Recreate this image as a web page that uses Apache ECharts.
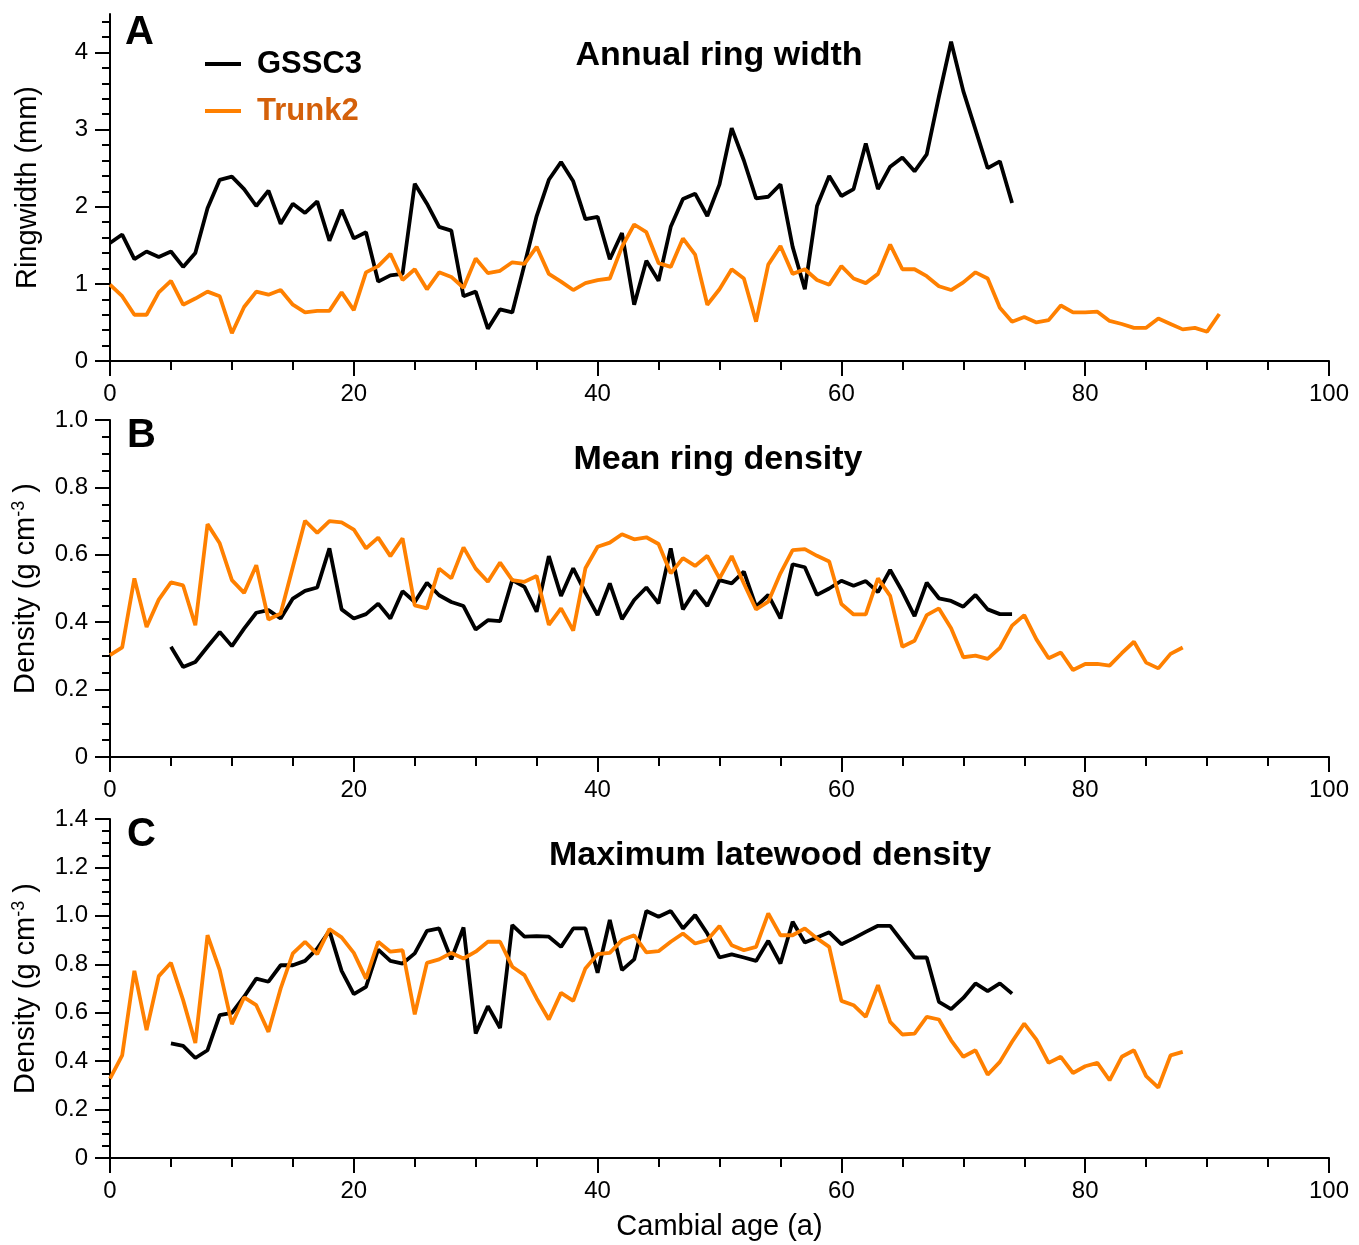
<!DOCTYPE html>
<html>
<head>
<meta charset="utf-8">
<title>Ring width and density by cambial age</title>
<script src="https://cdn.jsdelivr.net/npm/echarts@6/dist/echarts.min.js"></script>
<style>
html, body { margin: 0; padding: 0; background: #fff; }
#chart { width: 1359px; height: 1245px; }
</style>
</head>
<body>
<div id="chart"></div>
<script>
// tick labels
var ageTicks = [0, 20, 40, 60, 80, 100]
var ringTicks = [0, 1, 2, 3, 4]
var densityTicksB = [0, 0.2, 0.4, 0.6, 0.8, 1.0]
var densityTicksC = [0, 0.2, 0.4, 0.6, 0.8, 1.0, 1.2, 1.4]

// first cambial age of each record
var ringStartGSSC3 = 0
var ringStartTrunk2 = 0
var densityStartGSSC3 = 5
var densityStartTrunk2 = 0

// A: annual ring width (mm)
var ringWidthGSSC3 = [
  1.53, 1.64, 1.32, 1.42, 1.35, 1.42, 1.22, 1.40, 1.98, 2.35,
  2.39, 2.23, 2.01, 2.21, 1.78, 2.04, 1.92, 2.07, 1.56, 1.96,
  1.59, 1.67, 1.03, 1.11, 1.13, 2.30, 2.04, 1.74, 1.69, 0.84,
  0.90, 0.42, 0.67, 0.63, 1.25, 1.88, 2.35, 2.58, 2.33, 1.84,
  1.87, 1.32, 1.66, 0.73, 1.30, 1.04, 1.74, 2.10, 2.17, 1.88,
  2.29, 3.02, 2.60, 2.11, 2.13, 2.29, 1.48, 0.93, 2.01, 2.40,
  2.14, 2.23, 2.82, 2.23, 2.52, 2.64, 2.46, 2.68, 3.43, 4.14,
  3.50, 3.00, 2.50, 2.59, 2.05
]
var ringWidthTrunk2 = [
  0.99, 0.84, 0.60, 0.60, 0.89, 1.04, 0.73, 0.81, 0.90, 0.84,
  0.36, 0.70, 0.90, 0.86, 0.92, 0.73, 0.63, 0.65, 0.65, 0.89,
  0.66, 1.15, 1.23, 1.39, 1.05, 1.19, 0.93, 1.15, 1.09, 0.95,
  1.33, 1.14, 1.17, 1.28, 1.26, 1.48, 1.13, 1.03, 0.92, 1.01,
  1.05, 1.07, 1.48, 1.77, 1.67, 1.27, 1.22, 1.59, 1.38, 0.73,
  0.93, 1.19, 1.07, 0.51, 1.25, 1.49, 1.13, 1.19, 1.05, 0.99,
  1.23, 1.07, 1.01, 1.13, 1.51, 1.19, 1.19, 1.10, 0.97, 0.92,
  1.02, 1.15, 1.07, 0.69, 0.51, 0.57, 0.50, 0.53, 0.72, 0.63,
  0.63, 0.64, 0.52, 0.48, 0.43, 0.43, 0.55, 0.48, 0.41, 0.43,
  0.38, 0.61
]

// B: mean ring density (g cm-3)
var meanDensityGSSC3 = [
  0.327, 0.267, 0.282, 0.327, 0.371, 0.329, 0.381, 0.428, 0.436, 0.411,
  0.470, 0.493, 0.503, 0.619, 0.438, 0.411, 0.424, 0.455, 0.411, 0.492,
  0.460, 0.517, 0.480, 0.460, 0.448, 0.378, 0.406, 0.403, 0.525, 0.505,
  0.431, 0.596, 0.478, 0.560, 0.488, 0.421, 0.515, 0.409, 0.466, 0.503,
  0.456, 0.619, 0.438, 0.494, 0.448, 0.525, 0.515, 0.550, 0.446, 0.481,
  0.411, 0.572, 0.563, 0.481, 0.500, 0.523, 0.508, 0.522, 0.489, 0.555,
  0.491, 0.418, 0.517, 0.471, 0.463, 0.446, 0.481, 0.438, 0.424, 0.424
]
var meanDensityTrunk2 = [
  0.302, 0.325, 0.530, 0.386, 0.467, 0.518, 0.509, 0.391, 0.691, 0.634,
  0.525, 0.487, 0.569, 0.408, 0.426, 0.564, 0.701, 0.665, 0.700, 0.696,
  0.675, 0.619, 0.651, 0.596, 0.649, 0.450, 0.441, 0.559, 0.530, 0.622,
  0.559, 0.520, 0.577, 0.525, 0.520, 0.537, 0.392, 0.441, 0.375, 0.560,
  0.624, 0.636, 0.661, 0.646, 0.652, 0.632, 0.545, 0.590, 0.567, 0.597,
  0.530, 0.596, 0.515, 0.438, 0.461, 0.545, 0.614, 0.617, 0.597, 0.580,
  0.454, 0.423, 0.423, 0.530, 0.478, 0.327, 0.345, 0.421, 0.441, 0.382,
  0.296, 0.301, 0.291, 0.324, 0.390, 0.421, 0.349, 0.293, 0.310, 0.258,
  0.276, 0.276, 0.271, 0.308, 0.342, 0.280, 0.263, 0.306, 0.325
]

// C: maximum latewood density (g cm-3)
var maxDensityGSSC3 = [
  0.473, 0.463, 0.413, 0.445, 0.590, 0.599, 0.666, 0.741, 0.728, 0.796,
  0.796, 0.814, 0.865, 0.938, 0.773, 0.677, 0.707, 0.861, 0.814, 0.803,
  0.845, 0.938, 0.948, 0.821, 0.952, 0.514, 0.627, 0.537, 0.962, 0.914,
  0.916, 0.914, 0.872, 0.948, 0.948, 0.765, 0.983, 0.776, 0.820, 1.020,
  0.996, 1.020, 0.948, 1.003, 0.927, 0.828, 0.841, 0.828, 0.814, 0.897,
  0.803, 0.976, 0.890, 0.911, 0.932, 0.883, 0.907, 0.934, 0.959, 0.959,
  0.893, 0.828, 0.828, 0.645, 0.615, 0.661, 0.721, 0.689, 0.721, 0.679
]
var maxDensityTrunk2 = [
  0.328, 0.424, 0.773, 0.528, 0.751, 0.806, 0.652, 0.475, 0.920, 0.776,
  0.553, 0.663, 0.631, 0.521, 0.700, 0.845, 0.893, 0.842, 0.945, 0.911,
  0.847, 0.741, 0.893, 0.852, 0.858, 0.593, 0.806, 0.820, 0.847, 0.824,
  0.852, 0.893, 0.893, 0.790, 0.755, 0.659, 0.572, 0.682, 0.649, 0.783,
  0.842, 0.847, 0.900, 0.920, 0.849, 0.854, 0.893, 0.927, 0.886, 0.900,
  0.958, 0.879, 0.858, 0.872, 1.010, 0.920, 0.920, 0.948, 0.907, 0.872,
  0.649, 0.631, 0.583, 0.714, 0.562, 0.510, 0.514, 0.583, 0.572, 0.486,
  0.418, 0.445, 0.344, 0.397, 0.480, 0.555, 0.489, 0.393, 0.418, 0.351,
  0.379, 0.393, 0.321, 0.418, 0.445, 0.338, 0.291, 0.424, 0.438
]

var FONT = '"Liberation Sans", Arial, Helvetica, sans-serif'
var BLACK = '#000000'
var ORANGE = '#FF8000'
var ORANGE_TEXT = '#D4600A'

function withAge(start, values) {
  return values.map(function (v, i) { return [start + i, v] })
}

function densityLabel(v) {
  return v === 0 ? '0' : v.toFixed(1)
}

function xAxis(idx, withName) {
  var axis = {
    type: 'value',
    gridIndex: idx,
    min: 0,
    max: 100,
    interval: 20,
    axisLine: { show: true, onZero: false, lineStyle: { color: BLACK, width: 2 } },
    axisTick: { show: true, length: 15, customValues: ageTicks, lineStyle: { color: BLACK, width: 2 } },
    minorTick: { show: true, splitNumber: 4, length: 9, lineStyle: { color: BLACK, width: 2 } },
    axisLabel: { customValues: ageTicks, fontSize: 24, color: BLACK, margin: 21, fontFamily: FONT },
    splitLine: { show: false },
    minorSplitLine: { show: false }
  }
  if (withName) {
    axis.name = 'Cambial age (a)'
    axis.nameLocation = 'middle'
    axis.nameGap = 54
    axis.nameTextStyle = { fontSize: 29, color: BLACK, fontFamily: FONT }
  }
  return axis
}

function yAxis(idx, max, interval, minorSplit, ticks, formatter, name) {
  return {
    type: 'value',
    gridIndex: idx,
    min: 0,
    max: max,
    interval: interval,
    axisLine: { show: true, onZero: false, lineStyle: { color: BLACK, width: 2 } },
    axisTick: { show: true, length: 15, customValues: ticks, lineStyle: { color: BLACK, width: 2 } },
    minorTick: { show: true, splitNumber: minorSplit, length: 8, lineStyle: { color: BLACK, width: 2 } },
    axisLabel: { customValues: ticks, formatter: formatter, fontSize: 24, color: BLACK, margin: 22, fontFamily: FONT },
    splitLine: { show: false },
    minorSplitLine: { show: false },
    name: name,
    nameLocation: 'middle',
    nameRotate: 90,
    nameGap: 68,
    nameTextStyle: {
      fontSize: 29,
      color: BLACK,
      fontFamily: FONT,
      rich: {
        sup: { fontSize: 18, color: BLACK, fontFamily: FONT, verticalAlign: 'top', padding: [0, 0, 14, 0] }
      }
    }
  }
}

function line(name, idx, data, color) {
  return {
    name: name,
    type: 'line',
    xAxisIndex: idx,
    yAxisIndex: idx,
    data: data,
    showSymbol: false,
    symbol: 'none',
    smooth: false,
    lineStyle: { color: color, width: 3.8 },
    itemStyle: { color: color }
  }
}

function label(text, x, y, size, align) {
  return {
    type: 'text',
    x: x,
    y: y,
    style: {
      text: text,
      fill: BLACK,
      font: 'bold ' + size + 'px ' + FONT,
      align: align,
      verticalAlign: 'middle'
    }
  }
}

var densityName = 'Density (g cm{sup|-3} )'

var chart = echarts.init(document.getElementById('chart'), null, { renderer: 'canvas' })
chart.setOption({
  animation: false,
  backgroundColor: '#ffffff',
  textStyle: { fontFamily: FONT },
  grid: [
    { left: 110, right: 30, top: 14, height: 347, outerBoundsMode: 'none' },
    { left: 110, right: 30, top: 420, height: 337, outerBoundsMode: 'none' },
    { left: 110, right: 30, top: 819, height: 339, outerBoundsMode: 'none' }
  ],
  legend: {
    orient: 'vertical',
    left: 200,
    top: 43,
    icon: 'rect',
    itemWidth: 36,
    itemHeight: 4,
    itemGap: 15,
    textStyle: { fontSize: 31, fontWeight: 'bold', fontFamily: FONT, lineHeight: 32, padding: [0, 0, 0, 11] },
    data: [
      { name: 'GSSC3', textStyle: { color: BLACK } },
      { name: 'Trunk2', textStyle: { color: ORANGE_TEXT } }
    ]
  },
  xAxis: [xAxis(0, false), xAxis(1, false), xAxis(2, true)],
  yAxis: [
    yAxis(0, 4.5, 1, 5, ringTicks, null, 'Ringwidth (mm)'),
    yAxis(1, 1.0, 0.2, 4, densityTicksB, densityLabel, densityName),
    yAxis(2, 1.4, 0.2, 4, densityTicksC, densityLabel, densityName)
  ],
  series: [
    line('GSSC3', 0, withAge(ringStartGSSC3, ringWidthGSSC3), BLACK),
    line('Trunk2', 0, withAge(ringStartTrunk2, ringWidthTrunk2), ORANGE),
    line('GSSC3', 1, withAge(densityStartGSSC3, meanDensityGSSC3), BLACK),
    line('Trunk2', 1, withAge(densityStartTrunk2, meanDensityTrunk2), ORANGE),
    line('GSSC3', 2, withAge(densityStartGSSC3, maxDensityGSSC3), BLACK),
    line('Trunk2', 2, withAge(densityStartTrunk2, maxDensityTrunk2), ORANGE)
  ],
  graphic: [
    label('A', 125, 33, 40, 'left'),
    label('B', 127, 436, 40, 'left'),
    label('C', 127, 835, 40, 'left'),
    label('Annual ring width', 719, 56, 34, 'center'),
    label('Mean ring density', 718, 460, 34, 'center'),
    label('Maximum latewood density', 770, 856, 34, 'center')
  ]
})
</script>
</body>
</html>
